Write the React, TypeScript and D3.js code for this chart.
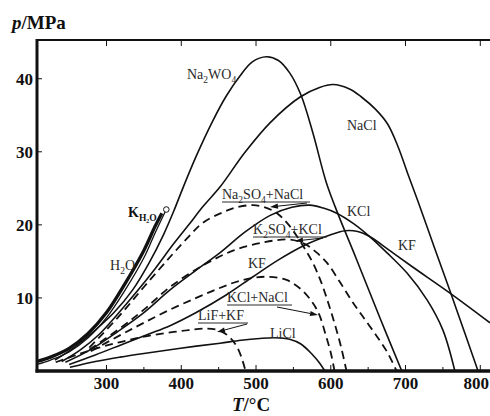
import React from 'react'
import * as d3 from 'd3'

// temperatures in °C, pressures in MPa

// water: bold saturation line and the thin H2O line next to it
const waterT = [207, 225, 250, 275, 300, 325, 350, 365, 374]
const waterP = [1.3, 1.9, 3.1, 5.1, 8.0, 12.0, 16.5, 19.8, 21.6]
const h2oT = [207, 225, 250, 275, 300, 325, 350, 365, 379]
const h2oP = [0.9, 1.5, 2.6, 4.5, 7.3, 11.1, 15.5, 18.9, 21.9]
const criticalT = 380
const criticalP = 22.1

// solid curves
const na2wo4T = [231, 258, 285, 310, 335, 357, 376, 390, 402, 420, 442, 460, 478, 495, 514, 530, 545, 560, 576, 594, 610, 630, 650, 672, 695]
const na2wo4P = [1.5, 3.3, 5.6, 8.0, 11.1, 14.8, 18.6, 21.9, 25.0, 29.4, 34.2, 37.6, 40.3, 42.3, 43.0, 42.5, 40.8, 37.8, 32.6, 25.8, 21.4, 16.4, 11.3, 5.7, 0]

const naclT = [240, 265, 290, 315, 340, 365, 389, 410, 429, 452, 485, 519, 559, 585, 603, 625, 641, 660, 676, 690, 703, 716, 740, 760, 780, 797]
const naclP = [1.3, 2.9, 5.0, 7.8, 10.8, 14.0, 17.3, 20.0, 22.5, 25.2, 29.9, 34.0, 37.5, 38.8, 39.2, 38.6, 37.5, 35.8, 33.8, 30.7, 27.0, 23.4, 16.5, 10.8, 5.0, 0]

const kclT = [245, 280, 315, 350, 385, 420, 452, 485, 519, 548, 572, 590, 608, 630, 652, 675, 702, 729, 750, 766]
const kclP = [1.2, 3.0, 5.4, 8.0, 11.1, 13.8, 16.2, 19.0, 21.3, 22.4, 22.7, 22.3, 21.6, 20.2, 18.4, 16.2, 13.4, 9.7, 5.6, 0]

const kfT = [250, 285, 320, 355, 385, 420, 460, 496, 530, 565, 599, 619, 636, 652, 680, 710, 759, 813]
const kfP = [0.9, 2.2, 3.6, 5.0, 6.2, 8.0, 10.4, 12.9, 15.2, 17.2, 18.6, 19.2, 19.1, 18.4, 16.4, 14.2, 10.7, 6.6]

const liclT = [251, 285, 318, 350, 385, 420, 452, 480, 505, 525, 545, 560, 575, 585, 592]
const liclP = [0.5, 1.3, 1.9, 2.4, 2.9, 3.4, 3.8, 4.2, 4.45, 4.55, 4.35, 3.7, 2.3, 1.1, 0]

// dashed curves (salt mixtures)
const na2so4NaclT = [277, 315, 350, 385, 410, 429, 455, 474, 496, 512, 528, 542, 555, 566, 576, 587, 597, 606, 614, 621]
const na2so4NaclP = [3.2, 7.3, 11.5, 15.6, 18.4, 20.3, 21.7, 22.4, 22.7, 22.4, 21.6, 20.2, 18.4, 16.6, 14.8, 12.2, 9.2, 6.2, 3.2, 0]

const k2so4KclT = [277, 320, 350, 385, 430, 470, 510, 545, 565, 580, 595, 612, 630, 646, 662, 676, 688]
const k2so4KclP = [2.9, 6.0, 8.4, 11.5, 14.5, 16.5, 17.6, 18.0, 17.4, 16.3, 14.8, 12.2, 9.3, 7.0, 4.7, 2.5, 0]

const kclNaclT = [279, 320, 350, 385, 420, 450, 480, 512, 540, 560, 576, 585, 593, 600, 605]
const kclNaclP = [2.7, 5.0, 6.6, 8.4, 10.0, 11.3, 12.4, 12.9, 12.5, 11.2, 9.3, 7.6, 5.0, 2.5, 0]

const lifKfT = [232, 260, 290, 320, 350, 380, 410, 435, 452, 466, 477, 486]
const lifKfP = [1.2, 2.2, 3.2, 4.0, 4.7, 5.2, 5.6, 5.8, 5.5, 4.5, 2.8, 0]

// axis ticks
const xTicks = [300, 400, 500, 600, 700, 800]
const xMinor = [350, 450, 550, 650, 750]
const yTicks = [10, 20, 30, 40]

const W = 490
const H = 416
const left = 37
const top = 40
const right = 490
const bottom = 371

const x = d3.scaleLinear().domain([207, 813]).range([left, right])
const y = d3.scaleLinear().domain([0, 45.3]).range([bottom, top])

const curves = [
    { T: waterT, p: waterP, width: 3.3, dashed: false },
    { T: h2oT, p: h2oP, width: 1.3, dashed: false },
    { T: na2wo4T, p: na2wo4P, width: 1.6, dashed: false },
    { T: naclT, p: naclP, width: 1.6, dashed: false },
    { T: kclT, p: kclP, width: 1.6, dashed: false },
    { T: kfT, p: kfP, width: 1.6, dashed: false },
    { T: liclT, p: liclP, width: 1.6, dashed: false },
    { T: na2so4NaclT, p: na2so4NaclP, width: 1.8, dashed: true },
    { T: k2so4KclT, p: k2so4KclP, width: 1.8, dashed: true },
    { T: kclNaclT, p: kclNaclP, width: 1.8, dashed: true },
    { T: lifKfT, p: lifKfP, width: 1.8, dashed: true },
]

const line = d3
    .line<[number, number]>()
    .x(d => x(d[0]))
    .y(d => y(d[1]))
    .curve(d3.curveCatmullRom.alpha(0.5))

const serif = '"Liberation Serif", "Times New Roman", serif'
const ink = '#111'
const labelInk = '#2a2a2a'

// text with subscripts: parts are [text, isSub]
const Label = ({ x0, y0, parts, size = 14, bold = false, fill = labelInk }) => {
    let shifted = false
    return (
        <text x={x0} y={y0} fontFamily={serif} fontSize={size} fontWeight={bold ? 'bold' : 'normal'} fill={fill}>
            {parts.map(([t, sub], i) => {
                let dy = 0
                if (sub && !shifted) { dy = size * 0.28; shifted = true }
                if (!sub && shifted) { dy = -size * 0.28; shifted = false }
                return (
                    <tspan key={i} dy={dy} fontSize={sub ? size * 0.68 : size}>{t}</tspan>
                )
            })}
        </text>
    )
}

const Arrow = ({ x1, y1, x2, y2 }) => {
    const a = Math.atan2(y2 - y1, x2 - x1)
    const len = 8, half = 2.6
    const bx = x2 - len * Math.cos(a), by = y2 - len * Math.sin(a)
    const p1 = [bx + half * Math.sin(a), by - half * Math.cos(a)]
    const p2 = [bx - half * Math.sin(a), by + half * Math.cos(a)]
    return (
        <g>
            <line x1={x1} y1={y1} x2={bx} y2={by} stroke={ink} strokeWidth={1} />
            <polygon points={`${x2},${y2} ${p1[0]},${p1[1]} ${p2[0]},${p2[1]}`} fill={ink} />
        </g>
    )
}

const Underline = ({ x1, x2, y0 }) => (
    <line x1={x1} x2={x2} y1={y0} y2={y0} stroke={labelInk} strokeWidth={1} />
)

export default function App() {
    return (
        <svg width={W} height={H} style={{ position: 'absolute', left: 0, top: 0, background: '#fff' }}>
            <defs>
                <clipPath id='plot'>
                    <rect x={left} y={top} width={right - left} height={bottom - top} />
                </clipPath>
            </defs>
            <rect width={W} height={H} fill='#fff' />

            {/* curves */}
            <g clipPath='url(#plot)' fill='none' stroke={ink}>
                {curves.map((c, i) => (
                    <path
                        key={i}
                        d={line(c.T.map((t, j) => [t, c.p[j]]))}
                        strokeWidth={c.width}
                        strokeDasharray={c.dashed ? '8 5' : null}
                    />
                ))}
            </g>
            <circle cx={x(criticalT)} cy={y(criticalP)} r={2.8} fill='#fff' stroke={ink} strokeWidth={1} />

            {/* frame and ticks */}
            <line x1={left} x2={right + 2} y1={top} y2={top} stroke={ink} strokeWidth={2} />
            <line x1={left} x2={left} y1={top - 1} y2={bottom + 1.5} stroke={ink} strokeWidth={3} />
            <line x1={left - 1.5} x2={right + 2} y1={bottom} y2={bottom} stroke={ink} strokeWidth={3.5} />
            {xTicks.map((t, i) => (
                <g key={t}>
                    <line x1={x(t)} x2={x(t)} y1={bottom} y2={bottom - 6} stroke={ink} strokeWidth={1} />
                    <line x1={x(t)} x2={x(t)} y1={top} y2={top + 6} stroke={ink} strokeWidth={1} />
                    <text
                        x={i === xTicks.length - 1 ? W - 1 : x(t)}
                        y={389}
                        textAnchor={i === xTicks.length - 1 ? 'end' : 'middle'}
                        fontFamily={serif} fontWeight='bold' fontSize={17} fill={ink}
                    >
                        {t}
                    </text>
                </g>
            ))}
            {xMinor.map(t => (
                <line key={t} x1={x(t)} x2={x(t)} y1={bottom} y2={bottom - 4} stroke={ink} strokeWidth={1} />
            ))}
            {yTicks.map(t => (
                <g key={t}>
                    <line x1={left} x2={left + 5} y1={y(t)} y2={y(t)} stroke={ink} strokeWidth={1} />
                    <text x={33} y={y(t) + 6} textAnchor='end' fontFamily={serif} fontWeight='bold' fontSize={17} fill={ink}>{t}</text>
                </g>
            ))}

            {/* axis titles */}
            <text x={12} y={29} fontFamily={serif} fontWeight='bold' fontSize={19} fill={ink}>
                <tspan fontStyle='italic'>p</tspan>/MPa
            </text>
            <text x={251} y={411} textAnchor='middle' fontFamily={serif} fontWeight='bold' fontSize={19} fill={ink}>
                <tspan fontStyle='italic'>T</tspan>/°C
            </text>

            {/* curve labels */}
            <Label x0={187} y0={79} parts={[['Na', false], ['2', true], ['WO', false], ['4', true]]} />
            <Label x0={347} y0={130} parts={[['NaCl', false]]} />
            <Label x0={347} y0={216} parts={[['KCl', false]]} />
            <Label x0={398} y0={250} parts={[['KF', false]]} />
            <Label x0={248} y0={268} parts={[['KF', false]]} />
            <Label x0={270} y0={338} parts={[['LiCl', false]]} />
            <Label x0={110} y0={270} parts={[['H', false], ['2', true], ['O', false]]} />
            <Label x0={128} y0={217} size={14} bold fill={ink} parts={[['K', false], ['H₂O', true]]} />

            <Label x0={222} y0={199} parts={[['Na', false], ['2', true], ['SO', false], ['4', true], ['+NaCl', false]]} />
            <Underline x1={222} x2={310} y0={202} />
            <Arrow x1={307} y1={203} x2={270} y2={207} />

            <Label x0={253} y0={234} parts={[['K', false], ['2', true], ['SO', false], ['4', true], ['+KCl', false]]} />
            <Underline x1={253} x2={327} y0={237} />
            <Arrow x1={323} y1={238} x2={295} y2={241} />

            <Label x0={227} y0={302} parts={[['KCl+NaCl', false]]} />
            <Underline x1={227} x2={292} y0={305} />
            <Arrow x1={277} y1={307} x2={318} y2={315} />

            <Label x0={198} y0={320} parts={[['LiF+KF', false]]} />
            <Underline x1={198} x2={248} y0={323} />
            <Arrow x1={247} y1={324} x2={217} y2={332} />
        </svg>
    )
}
